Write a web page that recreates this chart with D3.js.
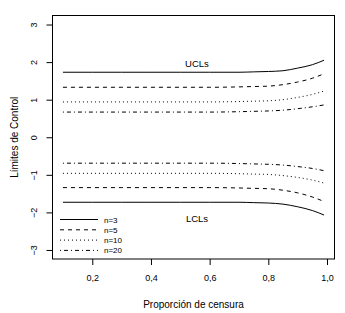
<!DOCTYPE html>
<html>
<head>
<meta charset="utf-8">
<script src="https://cdn.jsdelivr.net/npm/d3@7"></script>
<style>
  html, body { margin: 0; padding: 0; background: #fff; }
  svg { display: block; font-family: "Liberation Sans", Arial, Helvetica, sans-serif; }
</style>
</head>
<body>
<svg id="chart" width="345" height="313"></svg>
<script>
// ---- data ----
const censoring = [0.10, 0.20, 0.30, 0.40, 0.50, 0.60, 0.70, 0.75, 0.80, 0.85, 0.90, 0.95, 0.99];
const ucl_n3  = [1.73, 1.73, 1.73, 1.73, 1.73, 1.73, 1.73, 1.74, 1.75, 1.77, 1.84, 1.93, 2.05];
const ucl_n5  = [1.33, 1.33, 1.33, 1.33, 1.33, 1.33, 1.34, 1.35, 1.36, 1.40, 1.47, 1.57, 1.69];
const ucl_n10 = [0.94, 0.94, 0.94, 0.94, 0.94, 0.94, 0.95, 0.96, 0.97, 1.00, 1.06, 1.14, 1.23];
const ucl_n20 = [0.67, 0.67, 0.67, 0.67, 0.67, 0.67, 0.68, 0.69, 0.70, 0.72, 0.76, 0.81, 0.86];
const lcl_n3  = [-1.73, -1.73, -1.73, -1.73, -1.73, -1.73, -1.73, -1.74, -1.75, -1.78, -1.85, -1.95, -2.07];
const lcl_n5  = [-1.34, -1.34, -1.34, -1.34, -1.34, -1.34, -1.35, -1.36, -1.37, -1.41, -1.48, -1.59, -1.71];
const lcl_n10 = [-0.96, -0.96, -0.96, -0.96, -0.96, -0.96, -0.97, -0.98, -0.99, -1.02, -1.07, -1.14, -1.22];
const lcl_n20 = [-0.69, -0.69, -0.69, -0.69, -0.69, -0.69, -0.70, -0.71, -0.72, -0.74, -0.78, -0.83, -0.89];
const seriesNames = ["n=3", "n=5", "n=10", "n=20"];
const xTicks = [0.2, 0.4, 0.6, 0.8, 1.0];
const yTicks = [-3, -2, -1, 0, 1, 2, 3];
const yLimits = [-3, 3];

// ---- styles ----
const dashes = ["none", "4,4", "1,3", "1,3,4,3"];
const upper = [ucl_n3, ucl_n5, ucl_n10, ucl_n20];
const lower = [lcl_n3, lcl_n5, lcl_n10, lcl_n20];

const svg = d3.select("#chart");
const plot = { left: 52.5, right: 334.5, top: 15.5, bottom: 259 };

// R-style 4% axis extension
const xr = d3.extent(censoring);
const xPad = (xr[1] - xr[0]) * 0.04;
const yPad = (yLimits[1] - yLimits[0]) * 0.04;
const x = d3.scaleLinear().domain([xr[0] - xPad, xr[1] + xPad]).range([plot.left, plot.right]);
const y = d3.scaleLinear().domain([yLimits[0] - yPad, yLimits[1] + yPad]).range([plot.bottom, plot.top]);

const fmt = v => d3.format(".1f")(v).replace(".", ",");
const fmtY = v => String(v).replace("-", "\u2212");

// axes
const xAxis = svg.append("g")
  .attr("transform", `translate(0,${plot.bottom})`)
  .call(d3.axisBottom(x).tickValues(xTicks).tickFormat(fmt).tickSize(6).tickSizeOuter(0));
xAxis.select(".domain").remove();
xAxis.selectAll("line").attr("stroke", "#000");
xAxis.selectAll("text").attr("font-size", 9).attr("fill", "#000").attr("dy", null).attr("y", 22);

const yAxis = svg.append("g")
  .attr("transform", `translate(${plot.left},0)`)
  .call(d3.axisLeft(y).tickValues(yTicks).tickFormat(fmtY).tickSize(6).tickSizeOuter(0));
yAxis.select(".domain").remove();
yAxis.selectAll("line").attr("stroke", "#000");
yAxis.selectAll("text")
  .attr("font-size", 9).attr("fill", "#000")
  .attr("x", null).attr("dy", null)
  .attr("text-anchor", "middle")
  .attr("transform", "translate(-19,0) rotate(-90)")
  .attr("y", 0)
  .attr("dominant-baseline", "central");

// box
svg.append("rect")
  .attr("x", plot.left).attr("y", plot.top)
  .attr("width", plot.right - plot.left).attr("height", plot.bottom - plot.top)
  .attr("fill", "none").attr("stroke", "#000").attr("stroke-width", 1);

// lines
const line = d3.line().x(d => x(d[0])).y(d => y(d[1])).curve(d3.curveMonotoneX);
[upper, lower].forEach(group => {
  group.forEach((vals, i) => {
    svg.append("path")
      .datum(censoring.map((c, j) => [c, vals[j]]))
      .attr("d", line)
      .attr("fill", "none")
      .attr("stroke", "#000")
      .attr("stroke-width", 1)
      .attr("stroke-dasharray", dashes[i]);
  });
});

// annotations
svg.append("text").attr("x", 197).attr("y", 66.5).attr("text-anchor", "middle")
  .attr("font-size", 9.5).text("UCLs");
svg.append("text").attr("x", 197).attr("y", 221.5).attr("text-anchor", "middle")
  .attr("font-size", 9.5).text("LCLs");

// legend
const leg = svg.append("g");
seriesNames.forEach((name, i) => {
  const yy = 219.5 + i * 10.3;
  leg.append("line").attr("x1", 60).attr("x2", 98).attr("y1", yy).attr("y2", yy)
    .attr("stroke", "#000").attr("stroke-width", 1).attr("stroke-dasharray", dashes[i]);
  leg.append("text").attr("x", 104).attr("y", yy + 3).attr("font-size", 8).text(name);
});

// axis titles
svg.append("text").attr("x", (plot.left + plot.right) / 2).attr("y", 307.5)
  .attr("text-anchor", "middle").attr("font-size", 10).text("Proporción de censura");
svg.append("text")
  .attr("transform", `translate(17.5,${(plot.top + plot.bottom) / 2}) rotate(-90)`)
  .attr("text-anchor", "middle").attr("font-size", 10).text("Límites de Control");
</script>
</body>
</html>
